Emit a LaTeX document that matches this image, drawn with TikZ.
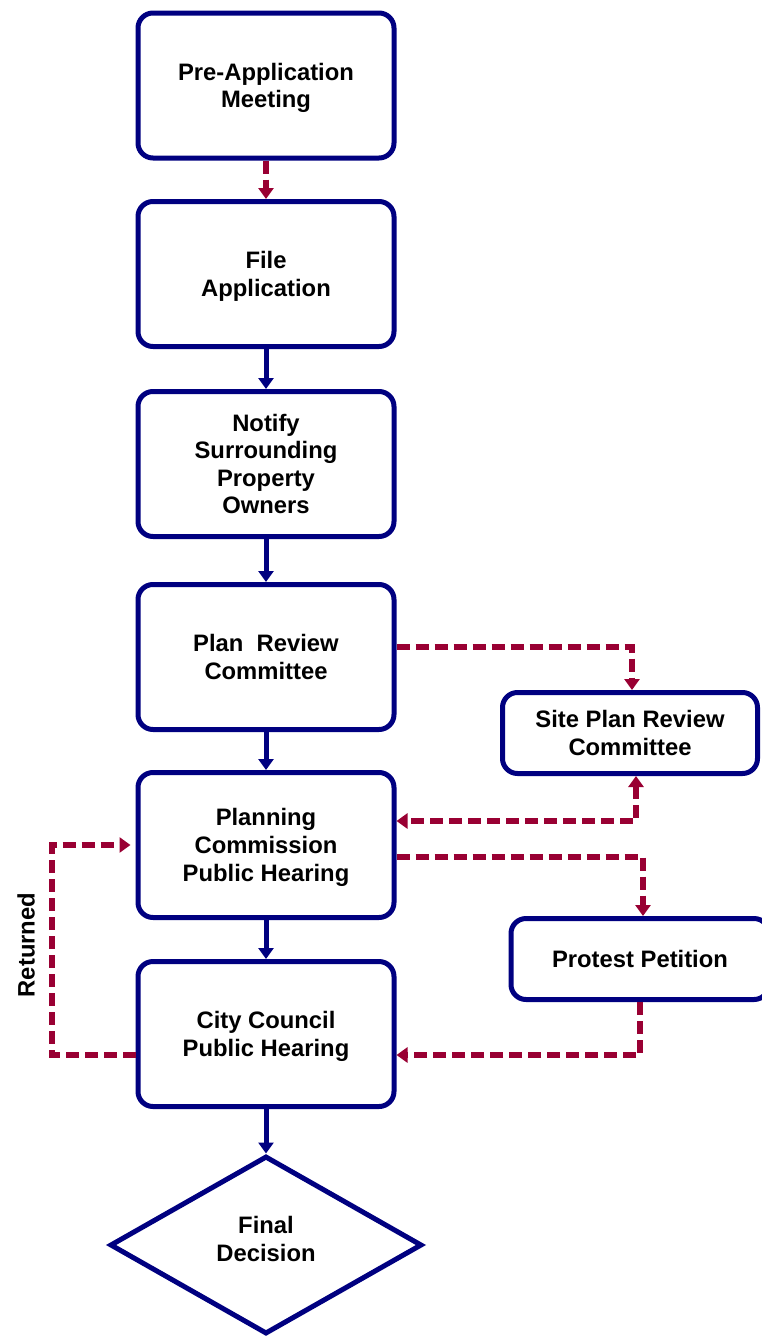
\documentclass[tikz,border=0pt]{standalone}
\usepackage{fontspec}
\setmainfont{Liberation Sans}
\usetikzlibrary{arrows.meta,shapes.geometric}
\definecolor{boxblue}{RGB}{0,0,128}
\definecolor{dashred}{RGB}{153,0,51}
\newcommand{\lowtext}[2]{\raisebox{#1}[\height][\depth]{\begin{tabular}{@{}c@{}}#2\end{tabular}}}
\tikzset{
  stepbox/.style={draw=boxblue, line width=5pt, rounded corners=15pt, fill=white,
    minimum width=256pt, minimum height=145pt, align=center, inner sep=2pt,
    font=\fontsize{23.8}{27.6}\selectfont\bfseries},
  sidebox/.style={stepbox, minimum width=255pt, minimum height=81pt},
  decbox/.style={diamond, draw=boxblue, line width=5pt, fill=white, align=center,
    minimum width=312pt, minimum height=178pt, inner sep=0pt,
    font=\fontsize{23.8}{27.6}\selectfont\bfseries},
  solidarrow/.style={draw=boxblue, line width=5pt,
    -{Triangle[width=15pt,length=11pt]}},
  dasharrow/.style={draw=dashred, line width=5.5pt, dash pattern=on 13pt off 6pt,
    line join=miter, -{Triangle[width=15pt,length=11pt]}},
  lbl/.style={font=\fontsize{23.8}{27.6}\selectfont\bfseries}
}
\begin{document}
\begin{tikzpicture}[x=1pt,y=-1pt]
\useasboundingbox (0,0) rectangle (761,1336);
\node[stepbox] (p1) at (266,85.5) {\lowtext{-3pt}{Pre-Application\\Meeting}};
\node[stepbox] (p2) at (266,274) {\lowtext{-3pt}{File\\Application}};
\node[stepbox] (p3) at (266,464) {Notify\\Surrounding\\Property\\Owners};
\node[stepbox] (p4) at (266,657) {Plan\ \ Review\\Committee};
\node[stepbox] (p5) at (266,845) {\lowtext{-3pt}{Planning\\Commission\\Public Hearing}};
\node[stepbox] (p6) at (266,1034) {\lowtext{-3pt}{City Council\\Public Hearing}};
\node[decbox] (fd) at (266,1245) {\lowtext{3pt}{Final\\Decision}};
\node[sidebox] (site) at (630,733) {Site Plan Review\\Committee};
\node[sidebox, minimum width=258pt] (prot) at (640,959) {Protest Petition};
\node[lbl, rotate=90] (ret) at (26,945) {Returned};

\draw[dasharrow] (p1) -- (p2);
\draw[solidarrow] (p2) -- (p3);
\draw[solidarrow] (p3) -- (p4);
\draw[solidarrow] (p4) -- (p5);
\draw[solidarrow] (p5) -- (p6);
\draw[solidarrow] (p6) -- (fd);

\coordinate (c1) at (632,647);
\draw[dasharrow] (p4.east |- c1) -- (c1) -- (c1 |- site.north);
\coordinate (c2) at (636,821);
\draw[dasharrow, {Triangle[width=15pt,length=11pt]}-{Triangle[width=15pt,length=11pt]}]
  (c2 |- site.south) -- (c2) -- (p5.east |- c2);
\coordinate (c3) at (643,857);
\draw[dasharrow] (p5.east |- c3) -- (c3) -- (c3 |- prot.north);
\coordinate (c4) at (640,1055);
\draw[dasharrow] (c4 |- prot.south) -- (c4) -- (p6.east |- c4);
\coordinate (c5) at (52,1055);
\coordinate (c6) at (52,845);
\draw[dasharrow] (p6.west |- c5) -- (c5) -- (c6) -- ([xshift=-5pt]p5.west |- c6);
\end{tikzpicture}
\end{document}
